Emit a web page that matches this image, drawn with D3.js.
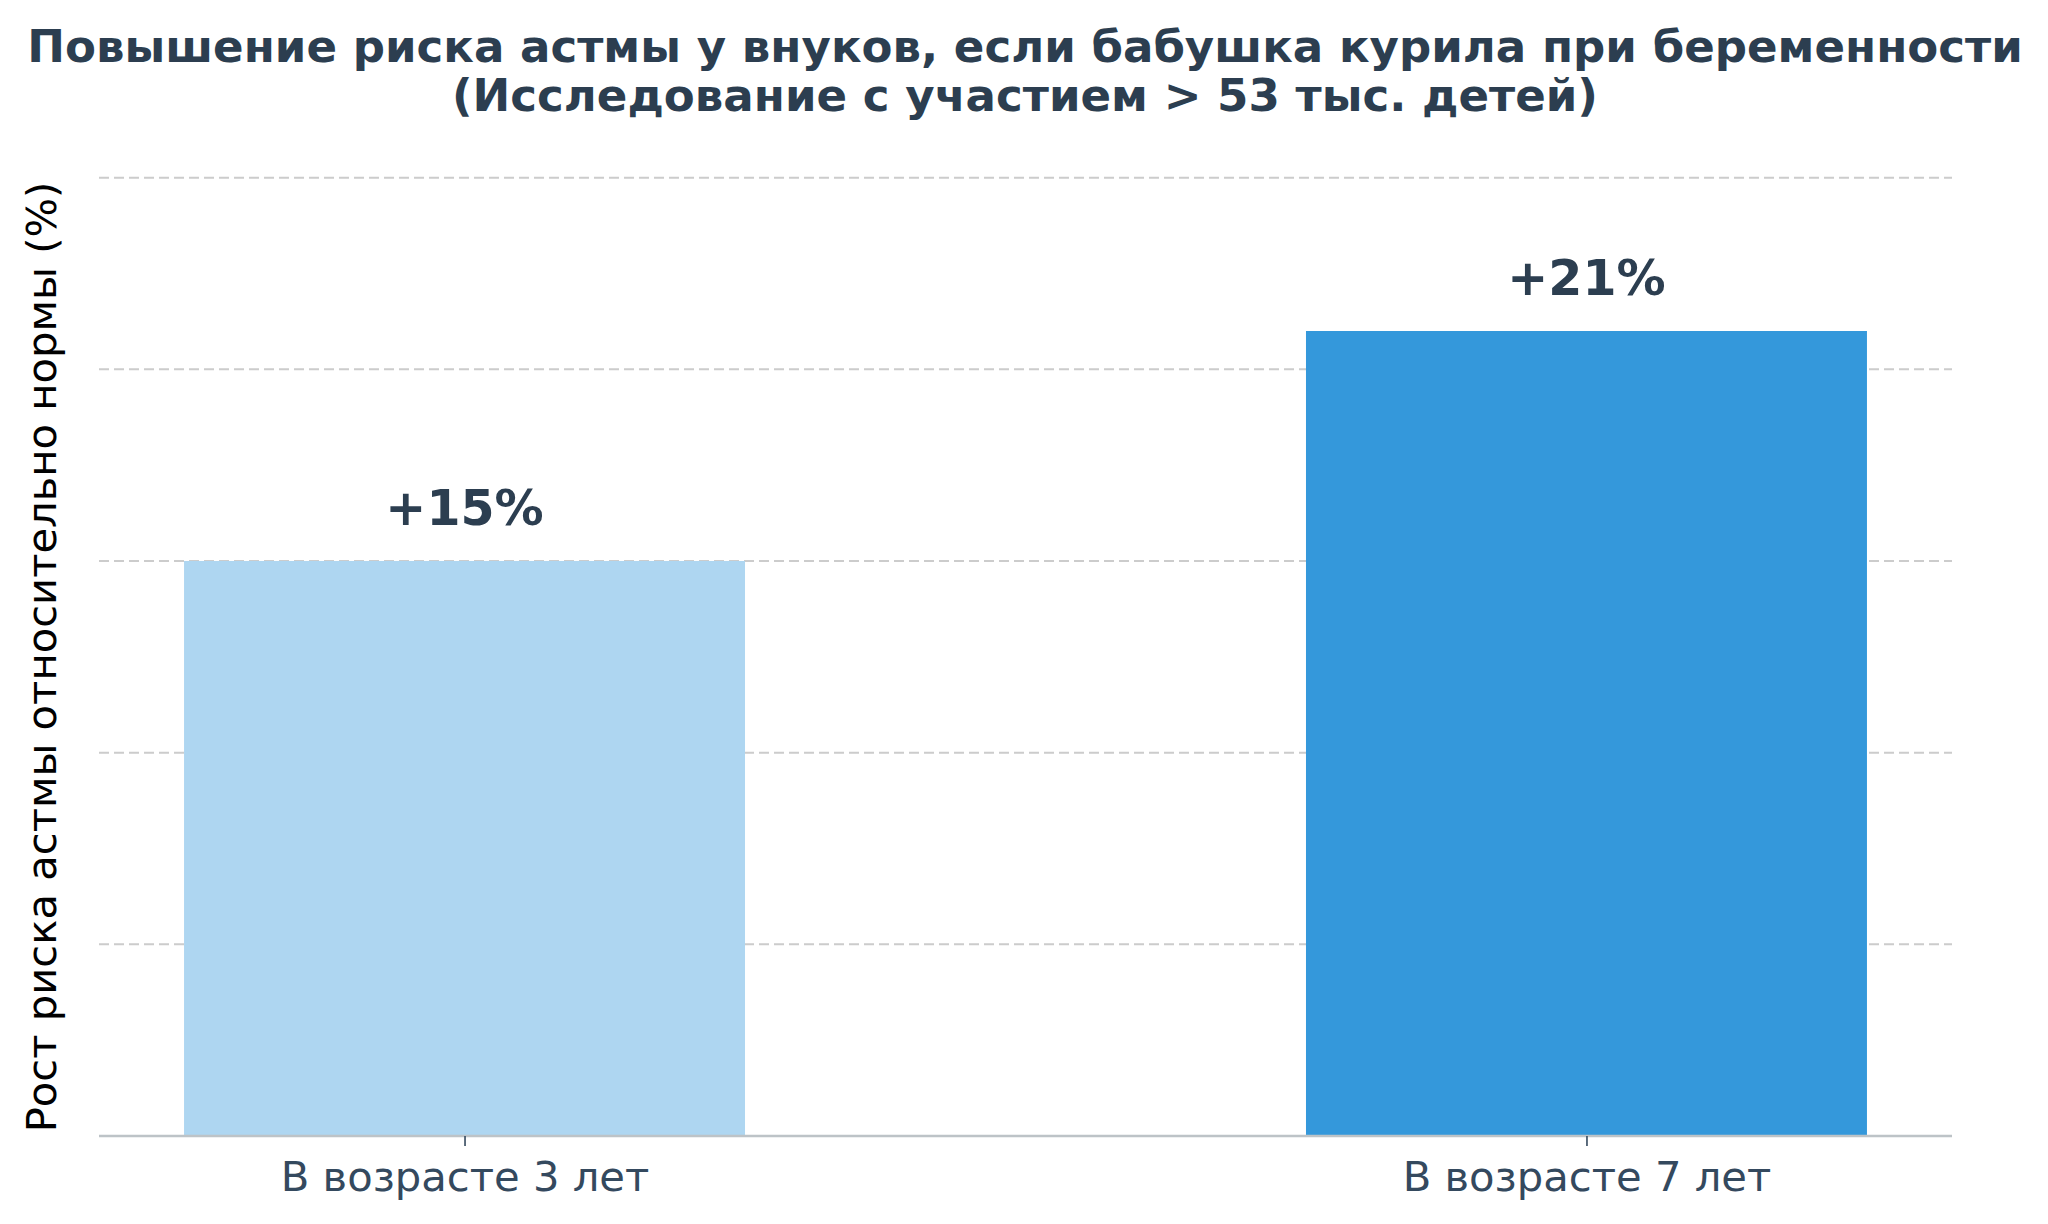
<!DOCTYPE html>
<html><head><meta charset="utf-8">
<script src="https://cdn.jsdelivr.net/npm/d3@7"></script>
<style>html,body{margin:0;padding:0;background:#fff;}svg{display:block;font-family:"DejaVu Sans",sans-serif;}</style>
</head><body>
<svg id="chart" width="2048" height="1224"></svg>
<script>
const categories = ["В возрасте 3 лет", "В возрасте 7 лет"];
const values = [15, 21];
const valueLabels = ["+15%", "+21%"];
const yTicks = [0, 5, 10, 15, 20, 25];
const barColors = ["#aed6f1", "#3498db"];
const titleLines = ["Повышение риска астмы у внуков, если бабушка курила при беременности", "(Исследование с участием > 53 тыс. детей)"];
const yLabel = "Рост риска астмы относительно нормы (%)";

(function () {
const svg = d3.select("#chart");
const mLeft = 99, mRight = 1952, mTop = 170, mBottom = 1136;

const x = d3.scaleLinear().domain([-0.3258, 1.3258]).range([mLeft, mRight]);
const y = d3.scaleLinear().domain([0, 25.2]).range([mBottom, mTop]);
const barW = 0.5;

// grid
svg.append("g").selectAll("line").data(yTicks.filter(d => d > 0)).join("line")
  .attr("x1", mLeft).attr("x2", mRight)
  .attr("y1", d => y(d)).attr("y2", d => y(d))
  .attr("stroke", "#cccccc").attr("stroke-width", 2).attr("stroke-dasharray", "10,5");

// bars
svg.append("g").selectAll("rect").data(values).join("rect")
  .attr("x", (d, i) => x(i - barW / 2))
  .attr("width", (d, i) => x(i + barW / 2) - x(i - barW / 2))
  .attr("y", d => y(d))
  .attr("height", d => y(0) - y(d))
  .attr("fill", (d, i) => barColors[i]);

// x axis
const xAxis = d3.axisBottom(x).tickValues([0, 1]).tickFormat(i => categories[i]).tickSize(10).tickPadding(15);
const gx = svg.append("g").attr("transform", `translate(0,${mBottom})`).call(xAxis);
gx.select(".domain").attr("stroke", "#bdc3c7").attr("stroke-width", 2.5).attr("d", `M${mLeft},0H${mRight}`);
gx.selectAll(".tick line").attr("stroke", "#34495e").attr("stroke-width", 1.6);
gx.selectAll(".tick text").attr("fill", "#34495e").attr("font-size", 41.7).attr("font-family", "DejaVu Sans");

// value labels
svg.append("g").selectAll("text").data(values).join("text")
  .attr("x", (d, i) => x(i)).attr("y", d => y(d) - 36)
  .attr("text-anchor", "middle").attr("font-weight", "bold").attr("font-size", 49)
  .attr("fill", "#2c3e50").text((d, i) => valueLabels[i]);

// y label
svg.append("text").attr("transform", `translate(56,657) rotate(-90)`)
  .attr("text-anchor", "middle").attr("font-size", 41.7).attr("fill", "#000").text(yLabel);

// title
svg.append("g").selectAll("text").data(titleLines).join("text")
  .attr("x", 1025).attr("y", (d, i) => 62 + i * 49)
  .attr("text-anchor", "middle").attr("font-weight", "bold").attr("font-size", 45.1)
  .attr("fill", "#2c3e50").text(d => d);
})();
</script>
</body></html>
